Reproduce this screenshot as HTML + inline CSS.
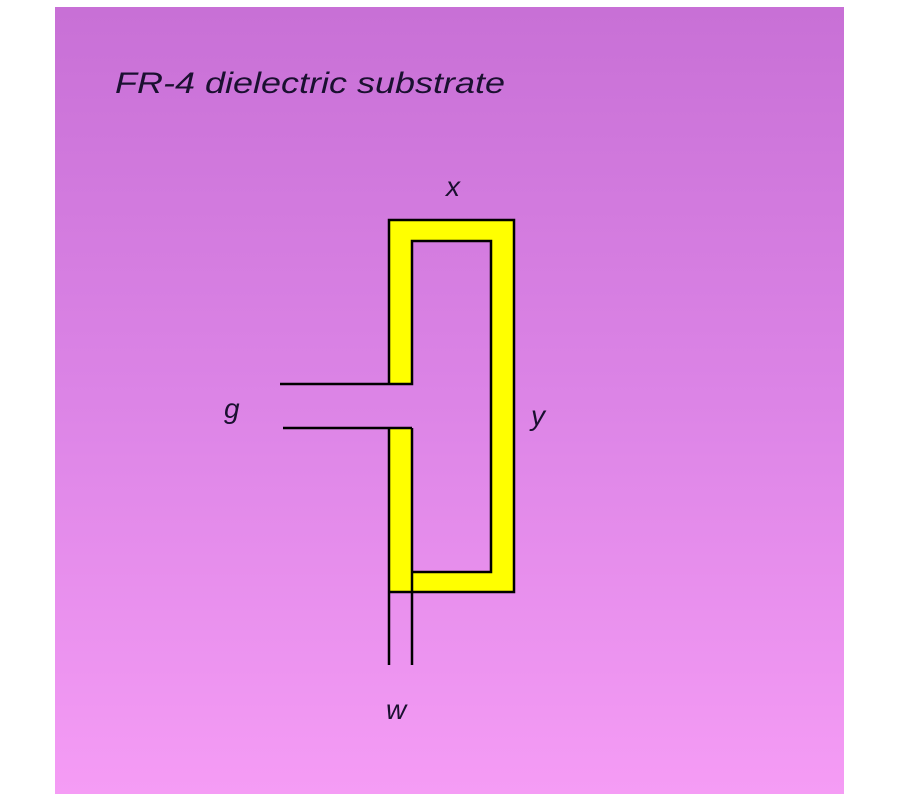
<!DOCTYPE html>
<html><head><meta charset="utf-8"><style>
html,body{margin:0;padding:0;background:#fff;width:900px;height:800px;overflow:hidden}
</style></head><body>
<svg width="900" height="800" xmlns="http://www.w3.org/2000/svg">
<defs><linearGradient id="g" x1="0" y1="0" x2="0" y2="1">
<stop offset="0" stop-color="#c870d6"/><stop offset="0.5" stop-color="#dc84e6"/><stop offset="1" stop-color="#f59cf5"/></linearGradient></defs>
<rect x="55" y="7" width="789" height="787" fill="url(#g)"/>
<text x="115" y="93" font-family="Liberation Sans, sans-serif" font-style="italic" font-size="30" fill="#1a1030" textLength="390" lengthAdjust="spacingAndGlyphs">FR-4 dielectric substrate</text>
<path d="M389,384 L389,220 L514,220 L514,592 L389,592 L389,428 L412,428 L412,572 L491,572 L491,241 L412,241 L412,384 Z" fill="#ffff00"/>
<g stroke="#000" stroke-width="2.5" fill="none">
<path d="M280,384 L412,384 L412,241 L491,241 L491,572 L412,572"/>
<path d="M389,384 L389,220 L514,220 L514,592 L389,592"/>
<path d="M283,428 L412,428"/>
<path d="M389,428 L389,665"/>
<path d="M412,428 L412,665"/>
</g>
<g font-family="Liberation Sans, sans-serif" font-style="italic" font-size="28" fill="#1a1030">
<text x="446" y="196">x</text>
<text x="224" y="418">g</text>
<text x="531" y="425">y</text>
<text x="386" y="719">w</text>
</g>
</svg>
</body></html>
